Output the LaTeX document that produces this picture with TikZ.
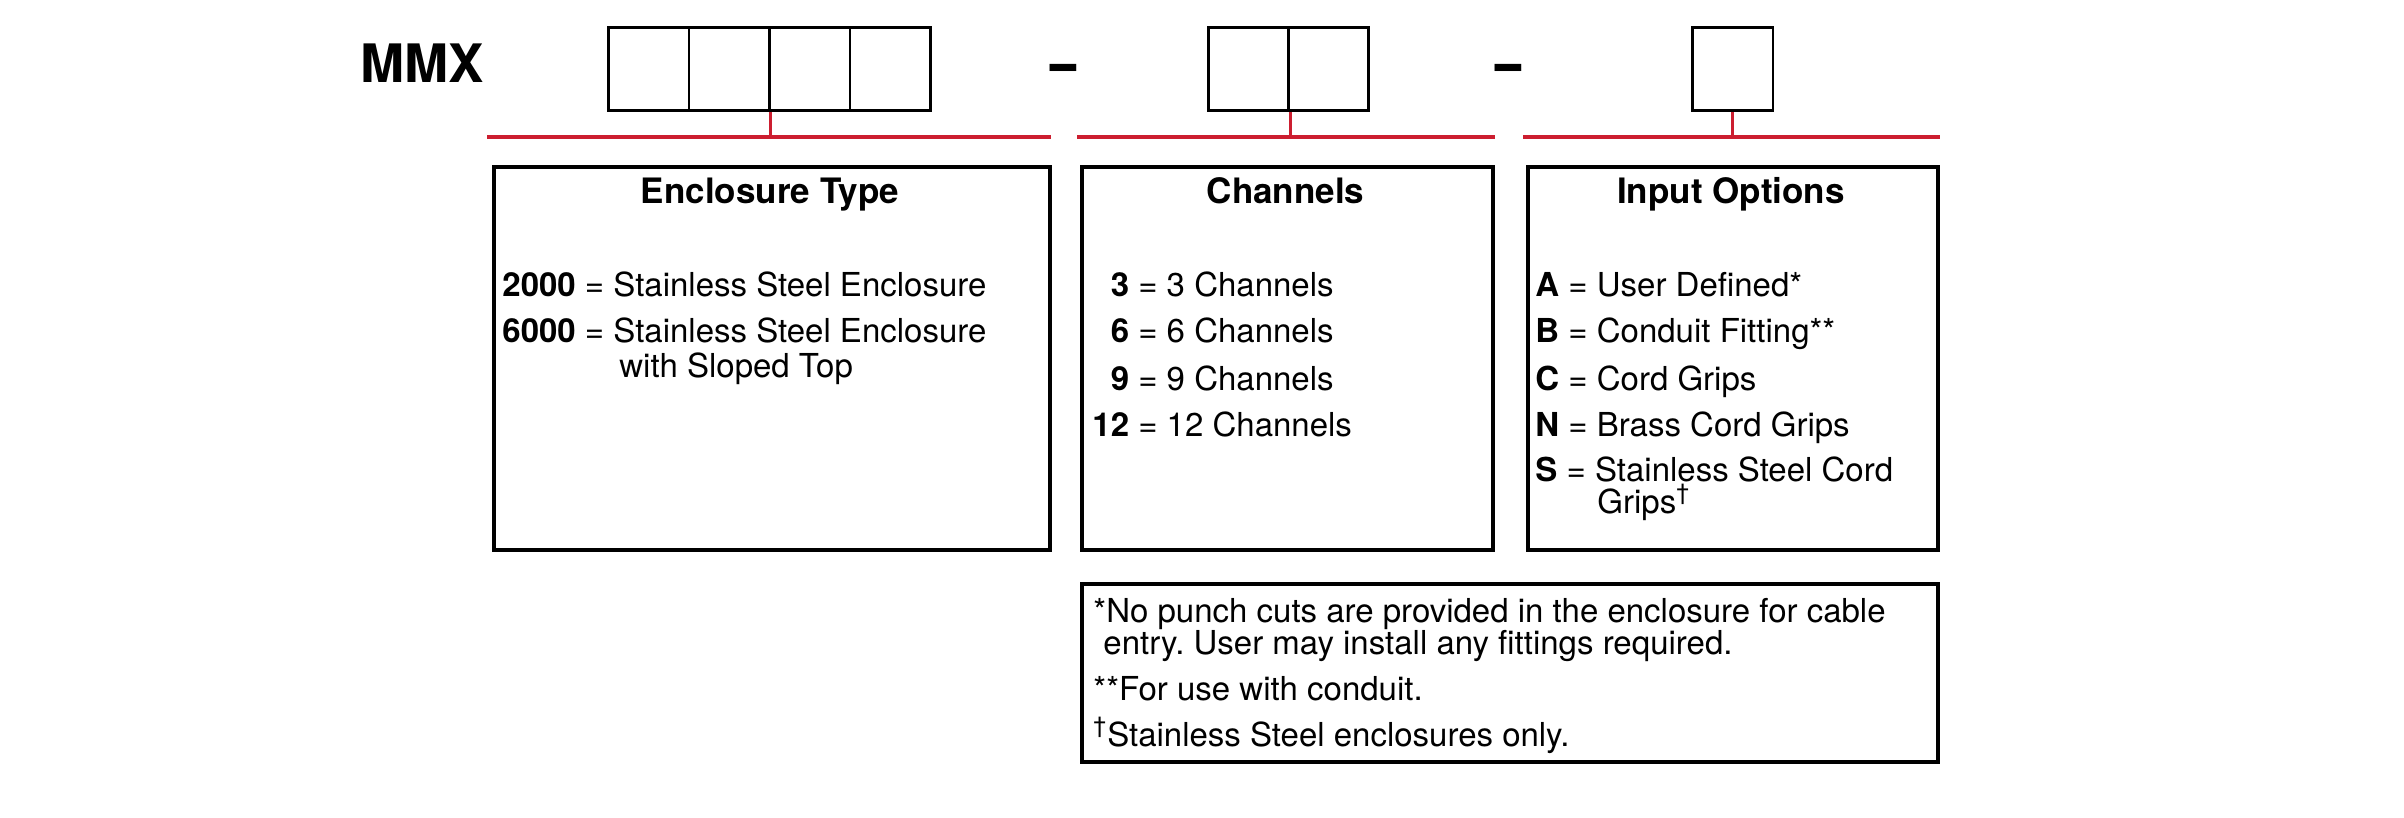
\documentclass[tikz,border=0pt]{standalone}
\usepackage{fontspec}
\setmainfont{TeX Gyre Heros}
\definecolor{pnred}{RGB}{204,30,48}
\newcommand\chnum[1]{\makebox[18.35pt][r]{\textbf{#1}}}
\frenchspacing
\begin{document}
\begin{tikzpicture}[x=0.5pt,y=-0.5pt,
  cell/.style={draw, line width=1.4pt, minimum width=40.25pt, minimum height=41.5pt, inner sep=0pt, anchor=north west},
  bigbox/.style={draw, line width=2.1pt, inner sep=0pt, anchor=north west},
  redh/.style={draw=pnred, line width=2.1pt},
  redv/.style={draw=pnred, line width=1.5pt},
  head/.style={anchor=base, inner sep=0pt, font=\fontsize{17.5}{20}\selectfont\bfseries},
  body/.style={anchor=base west, inner sep=0pt, font=\fontsize{16.5}{16.5}\selectfont\frenchspacing},
  big/.style={inner sep=0pt, font=\fontsize{26.5}{30}\selectfont\bfseries},
]
\useasboundingbox[fill=white] (0,0) rectangle (2404,818);

% part number
\node[big, anchor=base west] (mmx) at (360,83) {MMX};
\node[big, anchor=base] (dash1) at (1064,83) {\scalebox{1.85}[1]{-}};
\node[big, anchor=base] (dash2) at (1509,83) {\scalebox{1.85}[1]{-}};

% code cells
\node[cell] (c11) at (607,26) {};
\node[cell] (c12) at (687.5,26) {};
\node[cell] (c13) at (768,26) {};
\node[cell] (c14) at (848.5,26) {};
\node[cell] (c21) at (1207,26) {};
\node[cell] (c22) at (1286.5,26) {};
\node[cell] (c31) at (1691,26) {};

% red bars
\coordinate (l1a) at (487,137);
\coordinate (l1b) at (1051,137);
\coordinate (l2a) at (1077,137);
\coordinate (l2b) at (1495,137);
\coordinate (l3a) at (1523,137);
\coordinate (l3b) at (1940,137);
\draw[redh] (l1a) -- (l1b);
\draw[redh] (l2a) -- (l2b);
\draw[redh] (l3a) -- (l3b);
\draw[redv] (c12.south east) -- (c12.south east |- l1a);
\draw[redv] (c21.south east) -- (c21.south east |- l2a);
\draw[redv] (c31.south) -- (c31.south |- l3a);

% option boxes
\node[bigbox, minimum width=278pt, minimum height=191.5pt] (enc) at (492,165) {};
\node[bigbox, minimum width=205.5pt, minimum height=191.5pt] (chan) at (1080,165) {};
\node[bigbox, minimum width=205pt, minimum height=191.5pt] (inp) at (1526,165) {};
\node[bigbox, minimum width=428pt, minimum height=89pt] (notes) at (1080,582) {};

\node[head] (enchead) at (770,204) {Enclosure Type};
\node[head] (chanhead) at (1285.5,204) {Channels};
\node[head] (inphead) at (1731,204) {Input Options};

% enclosure type
\node[body] (e1) at (502,297) {\textbf{2000} = Stainless Steel Enclosure};
\node[body] (e2) at (502,343) {\textbf{6000} = Stainless Steel Enclosure};
\node[body] (e3) at (619,378) {with Sloped Top};

% channels
\node[body] (ch1) at (1092,297) {\chnum{3} = 3 Channels};
\node[body] (ch2) at (1092,343) {\chnum{6} = 6 Channels};
\node[body] (ch3) at (1092,390) {\chnum{9} = 9 Channels};
\node[body] (ch4) at (1092,436) {\chnum{12} = 12 Channels};

% input options
\node[body] (i1) at (1535,297) {\textbf{A} = User Defined*};
\node[body] (i2) at (1535,343) {\textbf{B} = Conduit Fitting**};
\node[body] (i3) at (1535,390) {\textbf{C} = Cord Grips};
\node[body] (i4) at (1535,436) {\textbf{N} = Brass Cord Grips};
\node[body] (i5) at (1535,481) {\textbf{S} = Stainless Steel Cord};
\node[body] (i6) at (1597,513) {Grips\smash{\textsuperscript{†}}};

% notes
\node[body] (n1) at (1093,622) {*No punch cuts are provided in the enclosure for cable};
\node[body] (n2) at (1103,654) {entry. User may install any fittings required.};
\node[body] (n3) at (1093,700) {**For use with conduit.};
\node[body] (n4) at (1093,746) {\smash{\textsuperscript{†}}Stainless Steel enclosures only.};
\end{tikzpicture}
\end{document}
